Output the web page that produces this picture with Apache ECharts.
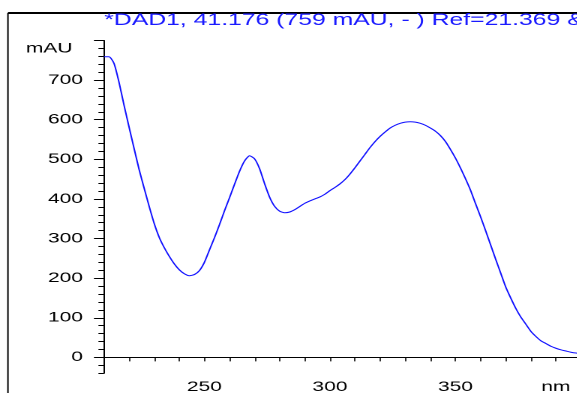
<!DOCTYPE html>
<html><head><meta charset="utf-8">
<script src="https://cdn.jsdelivr.net/npm/echarts@6/dist/echarts.min.js"></script>
<style>
html,body{margin:0;padding:0;background:#fff;overflow:hidden;}
#clip{position:absolute;left:0;top:0;width:577px;height:393px;overflow:hidden;background:#fff;}
#chart{position:absolute;left:0;top:0;width:390px;height:393px;transform:scaleX(1.5);transform-origin:0 0;}
</style></head><body>
<div id="clip"><div id="chart"></div></div>
<script>
// horizontal stretch of the original printout
const S = 1.5;
const titleText = '*DAD1, 41.176 (759 mAU, - ) Ref=21.369 &';
const yUnit = 'mAU';
const xUnit = 'nm';

// wavelength (nm)
const wavelength = [210,212,214,216,218,220,222,224,226,228,230,232,234,236,238,240,242,244,246,248,
  250,252,254,256,258,260,262,264,266,268,270,272,274,276,278,280,282,284,286,288,
  290,292,294,296,298,300,302,304,306,308,310,312,314,316,318,320,322,324,326,328,
  330,332,334,336,338,340,342,344,346,348,350,352,354,356,358,360,362,364,366,368,
  370,372,374,376,378,380,382,384,386,388,390,392,394,396,398,400];
// absorbance (mAU)
const absorbance = [759,759,742,694,636,581,527,474,427,381,338,303,277,255,236,221,211,206,209,219,
  240,271,302,335,370,403,437,470,496,509,501,476,438,404,381,369,365,367,373,381,
  389,395,400,405,412,421,429,438,449,463,479,496,513,530,545,558,569,579,586,591,
  594,595,594,591,586,579,571,560,545,525,503,478,451,422,388,355,320,284,248,213,
  178,150,124,102,84,66,53,42,35,28,23,19,16,13,11,10];

const xLabelValues = [250,300,350];
const yLabelValues = [0,100,200,300,400,500,600,700];

const xMin = 210, xMax = 400, yMin = -40, yMax = 800;
const xTicks = []; for (let v = xMin; v <= xMax; v += 10) xTicks.push(v);
const yMinorTicks = []; for (let v = yMin; v <= yMax; v += 20) yMinorTicks.push(v);
const yMajorTicks = yLabelValues.concat([800]);
const unitPosX = 390, unitPosY = 780;

const FONT = 'Liberation Sans, Arial, sans-serif';
const chart = echarts.init(document.getElementById('chart'), null, {renderer:'canvas', devicePixelRatio: 2});
chart.setOption({
  animation: false,
  backgroundColor: '#fff',
  title: {
    text: titleText, left: 69.5, top: 12, padding: 0,
    textStyle: {color: '#1a1aff', fontSize: 16.5, fontWeight: 'normal', fontFamily: FONT}
  },
  graphic: [
    {type:'line', shape:{x1:5.3, y1:13, x2:420, y2:13}, style:{stroke:'#000', lineWidth:2}},
    {type:'line', shape:{x1:5.3, y1:13, x2:5.3, y2:420}, style:{stroke:'#000', lineWidth:1}}
  ],
  grid: {left: 69.33, right: 2.67, top: 40.5, bottom: 19.8, containLabel: false, outerBoundsMode: 'none'},
  xAxis: {
    type: 'value', min: xMin, max: xMax,
    axisLine: {show: true, lineStyle: {color: '#000', width: 1}},
    axisTick: {show: true, customValues: xTicks, length: 4, lineStyle: {color: '#000', width: 0.8}},
    axisLabel: {
      customValues: xLabelValues.concat([unitPosX]),
      formatter: v => v === unitPosX ? xUnit : String(v),
      color: '#000', fontSize: 14, fontFamily: FONT, margin: 7
    },
    splitLine: {show: false}
  },
  yAxis: [
    {
      type: 'value', min: yMin, max: yMax, position: 'left',
      axisLine: {show: true, lineStyle: {color: '#000', width: 1}},
      axisTick: {show: true, customValues: yMinorTicks, length: 3.7, lineStyle: {color: '#000', width: 1}},
      axisLabel: {show: false},
      splitLine: {show: false}
    },
    {
      type: 'value', min: yMin, max: yMax, position: 'left', offset: 0,
      axisLine: {show: false},
      axisTick: {show: true, customValues: yMajorTicks, length: 6.7, lineStyle: {color: '#000', width: 1}},
      axisLabel: {
        customValues: yLabelValues.concat([unitPosY]),
        formatter: v => v === unitPosY ? '{u|' + yUnit + '}' : String(v),
        rich: {u: {fontSize: 14, fontFamily: FONT, color: '#000', padding: [0, 7, 0, 0]}},
        color: '#000', fontSize: 14, fontFamily: FONT, margin: 14
      },
      splitLine: {show: false}
    }
  ],
  series: [{
    type: 'line', xAxisIndex: 0, yAxisIndex: 0,
    data: wavelength.map((w, i) => [w, absorbance[i]]),
    showSymbol: false, smooth: 0.2,
    lineStyle: {color: '#1010ff', width: 1}
  }]
});
</script>
</body></html>
